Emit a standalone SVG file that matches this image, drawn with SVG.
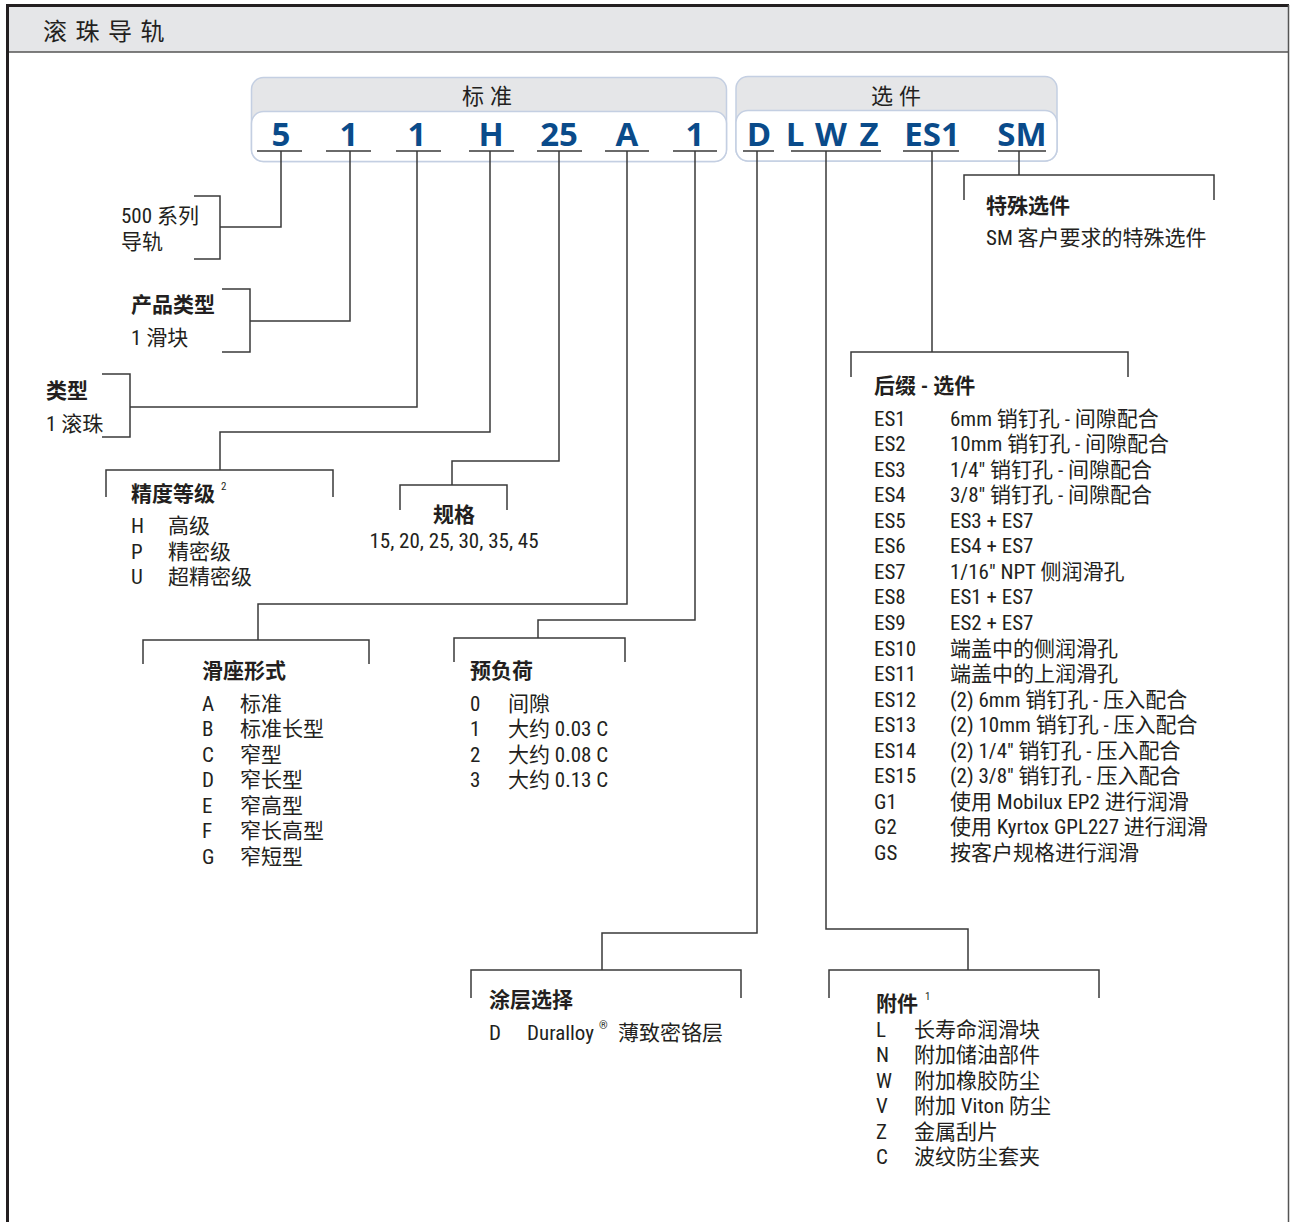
<svg xmlns="http://www.w3.org/2000/svg" width="1290" height="1222" viewBox="0 0 1290 1222">
<style>
.t{font-family:"Roboto Condensed","Liberation Sans Narrow","DejaVu Sans Condensed","Noto Sans CJK SC",sans-serif;font-stretch:condensed;font-size:21px;fill:#231f20}
.b{font-weight:bold}
.h{font-family:"Noto Sans CJK SC",sans-serif;font-size:22px;fill:#231f20;letter-spacing:6px}
.sup{font-family:"Roboto Condensed","Liberation Sans Narrow","Noto Sans CJK SC",sans-serif;font-size:11px;fill:#231f20}
.code{font-family:"Open Sans","Noto Sans",sans-serif;font-weight:bold;font-size:33px;fill:#0a4b8a;text-anchor:middle}
.ul{stroke:#3a3a3a;stroke-width:1.6;fill:none}
.ln{stroke:#3a3a3a;stroke-width:1.5;fill:none}
.box{stroke:#c4cfe2;stroke-width:1.5}
</style>
<rect x="0" y="0" width="1290" height="1222" fill="#fff"/>
<g id="frame">
<rect x="7" y="6" width="1282" height="46" fill="#e5e6e8"/>
<line x1="7" y1="52" x2="1289" y2="52" stroke="#555" stroke-width="1.6"/>
<line x1="7.5" y1="5" x2="7.5" y2="1222" stroke="#231f20" stroke-width="3"/>
<line x1="6" y1="5.5" x2="1289" y2="5.5" stroke="#231f20" stroke-width="3"/>
<line x1="1288.5" y1="5" x2="1288.5" y2="1222" stroke="#555" stroke-width="1.5"/>
<text x="43" y="40" class="h" style="font-size:24px;letter-spacing:8.5px">滚珠导轨</text>
</g>
<g id="standard-box">
<rect x="251.5" y="77.5" width="475" height="84" rx="12" fill="#e5e6e8" class="box"/>
<rect x="251.5" y="111.5" width="475" height="50" rx="12" fill="#fff" class="box"/>
<text x="490" y="104" class="h" text-anchor="middle">标准</text>
<text x="281" y="146" class="code">5</text>
<text x="349" y="146" class="code">1</text>
<text x="417" y="146" class="code">1</text>
<text x="491" y="146" class="code">H</text>
<text x="559" y="146" class="code">25</text>
<text x="627" y="146" class="code">A</text>
<text x="695" y="146" class="code">1</text>
<path class="ul" d="M257 151H302M326 151H371M396 151H441M469 151H514M537 151H582M605 151H649M673 151H717"/>
</g>
<g id="options-box">
<rect x="736" y="76.5" width="321" height="84.5" rx="12" fill="#e5e6e8" class="box"/>
<rect x="736" y="110.5" width="321" height="50.5" rx="12" fill="#fff" class="box"/>
<text x="899" y="104" class="h" text-anchor="middle">选件</text>
<text x="759" y="146" class="code">D</text>
<text x="795" y="146" class="code">L</text>
<text x="831" y="146" class="code">W</text>
<text x="869" y="146" class="code">Z</text>
<text x="932" y="146" class="code">ES1</text>
<text x="1022" y="146" class="code">SM</text>
<path class="ul" d="M743 151H774M791 151H881M903 151H959M998 151H1046"/>
</g>
<g id="connectors" class="ln">
<path d="M281 151V227H220M194 196H220V259H194"/>
<path d="M350 151V321H250M222 289H250V352H222"/>
<path d="M417 151V407H130M102 374H130V437H102"/>
<path d="M490 151V432H220V470M106 497V470H333V497"/>
<path d="M559 151V461H452V485M400 510V485H507V510"/>
<path d="M627 151V604H258V640M143 664V640H369V664"/>
<path d="M695 151V620H538V638M454 662V638H625V662"/>
<path d="M757 151V933H602V970M471 998V970H741V998"/>
<path d="M826 151V929H968V970M829 998V970H1099V998"/>
<path d="M932 151V352M851 377V352H1128V377"/>
<path d="M1019 151V175M964 200V175H1214V200"/>
</g>
<g id="series">
<text x="121" y="223" class="t">500 系列</text>
<text x="121" y="249" class="t">导轨</text>
</g>
<g id="product-type">
<text x="131" y="312" class="t b">产品类型</text>
<text x="131" y="345" class="t">1 滑块</text>
</g>
<g id="type">
<text x="46" y="398" class="t b">类型</text>
<text x="46" y="431" class="t">1 滚珠</text>
</g>
<g id="accuracy">
<text x="131" y="501" class="t b">精度等级</text>
<text x="221" y="490" class="sup">2</text>
<text x="131" y="533" class="t">H</text><text x="168" y="533" class="t">高级</text>
<text x="131" y="559" class="t">P</text><text x="168" y="559" class="t">精密级</text>
<text x="131" y="584" class="t">U</text><text x="168" y="584" class="t">超精密级</text>
</g>
<g id="size">
<text x="454" y="522" class="t b" text-anchor="middle">规格</text>
<text x="454" y="548" class="t" text-anchor="middle">15, 20, 25, 30, 35, 45</text>
</g>
<g id="carriage-style">
<text x="202" y="678" class="t b">滑座形式</text>
<text x="202" y="711" class="t">A</text><text x="240" y="711" class="t">标准</text>
<text x="202" y="736" class="t">B</text><text x="240" y="736" class="t">标准长型</text>
<text x="202" y="762" class="t">C</text><text x="240" y="762" class="t">窄型</text>
<text x="202" y="787" class="t">D</text><text x="240" y="787" class="t">窄长型</text>
<text x="202" y="813" class="t">E</text><text x="240" y="813" class="t">窄高型</text>
<text x="202" y="838" class="t">F</text><text x="240" y="838" class="t">窄长高型</text>
<text x="202" y="864" class="t">G</text><text x="240" y="864" class="t">窄短型</text>
</g>
<g id="preload">
<text x="470" y="678" class="t b">预负荷</text>
<text x="470" y="711" class="t">0</text><text x="508" y="711" class="t">间隙</text>
<text x="470" y="736" class="t">1</text><text x="508" y="736" class="t">大约 0.03 C</text>
<text x="470" y="762" class="t">2</text><text x="508" y="762" class="t">大约 0.08 C</text>
<text x="470" y="787" class="t">3</text><text x="508" y="787" class="t">大约 0.13 C</text>
</g>
<g id="special">
<text x="986" y="213" class="t b">特殊选件</text>
<text x="986" y="245" class="t">SM 客户要求的特殊选件</text>
</g>
<g id="suffix">
<text x="874" y="393" class="t b">后缀 - 选件</text>
<text x="874" y="426" class="t">ES1</text><text x="950" y="426" class="t">6mm 销钉孔 - 间隙配合</text>
<text x="874" y="451" class="t">ES2</text><text x="950" y="451" class="t">10mm 销钉孔 - 间隙配合</text>
<text x="874" y="477" class="t">ES3</text><text x="950" y="477" class="t">1/4″ 销钉孔 - 间隙配合</text>
<text x="874" y="502" class="t">ES4</text><text x="950" y="502" class="t">3/8″ 销钉孔 - 间隙配合</text>
<text x="874" y="528" class="t">ES5</text><text x="950" y="528" class="t">ES3 + ES7</text>
<text x="874" y="553" class="t">ES6</text><text x="950" y="553" class="t">ES4 + ES7</text>
<text x="874" y="579" class="t">ES7</text><text x="950" y="579" class="t">1/16″ NPT 侧润滑孔</text>
<text x="874" y="604" class="t">ES8</text><text x="950" y="604" class="t">ES1 + ES7</text>
<text x="874" y="630" class="t">ES9</text><text x="950" y="630" class="t">ES2 + ES7</text>
<text x="874" y="656" class="t">ES10</text><text x="950" y="656" class="t">端盖中的侧润滑孔</text>
<text x="874" y="681" class="t">ES11</text><text x="950" y="681" class="t">端盖中的上润滑孔</text>
<text x="874" y="707" class="t">ES12</text><text x="950" y="707" class="t">(2) 6mm 销钉孔 - 压入配合</text>
<text x="874" y="732" class="t">ES13</text><text x="950" y="732" class="t">(2) 10mm 销钉孔 - 压入配合</text>
<text x="874" y="758" class="t">ES14</text><text x="950" y="758" class="t">(2) 1/4″ 销钉孔 - 压入配合</text>
<text x="874" y="783" class="t">ES15</text><text x="950" y="783" class="t">(2) 3/8″ 销钉孔 - 压入配合</text>
<text x="874" y="809" class="t">G1</text><text x="950" y="809" class="t">使用 Mobilux  EP2 进行润滑</text>
<text x="874" y="834" class="t">G2</text><text x="950" y="834" class="t">使用 Kyrtox  GPL227 进行润滑</text>
<text x="874" y="860" class="t">GS</text><text x="950" y="860" class="t">按客户规格进行润滑</text>
</g>
<g id="coating">
<text x="489" y="1007" class="t b">涂层选择</text>
<text x="489" y="1040" class="t">D</text><text x="527" y="1040" class="t">Duralloy</text>
<text x="599" y="1029" class="sup">®</text>
<text x="618" y="1040" class="t">薄致密铬层</text>
</g>
<g id="accessories">
<text x="876" y="1011" class="t b">附件</text>
<text x="925" y="1000" class="sup">1</text>
<text x="876" y="1037" class="t">L</text><text x="914" y="1037" class="t">长寿命润滑块</text>
<text x="876" y="1062" class="t">N</text><text x="914" y="1062" class="t">附加储油部件</text>
<text x="876" y="1088" class="t">W</text><text x="914" y="1088" class="t">附加橡胶防尘</text>
<text x="876" y="1113" class="t">V</text><text x="914" y="1113" class="t">附加 Viton 防尘</text>
<text x="876" y="1139" class="t">Z</text><text x="914" y="1139" class="t">金属刮片</text>
<text x="876" y="1164" class="t">C</text><text x="914" y="1164" class="t">波纹防尘套夹</text>
</g>
</svg>
